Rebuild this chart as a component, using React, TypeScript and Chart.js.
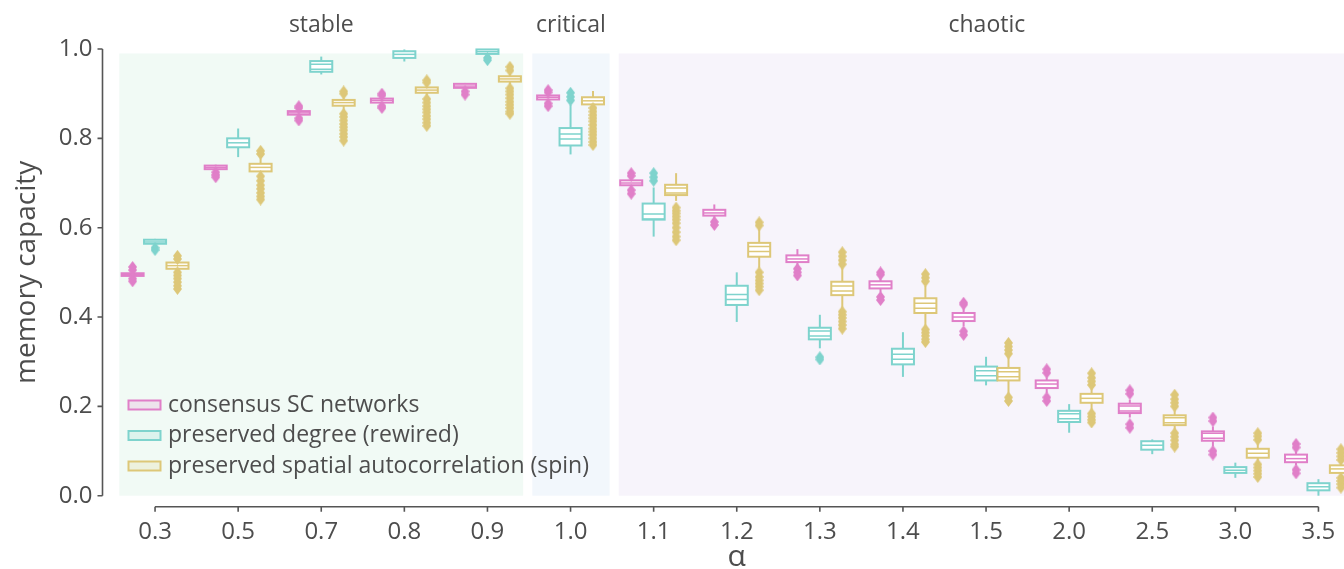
import { useEffect, useRef } from 'react';
import { Chart, registerables } from 'chart.js';

Chart.register(...registerables);

// ---------- data ----------
const categories = ['0.3', '0.5', '0.7', '0.8', '0.9', '1.0', '1.1', '1.2', '1.3', '1.4', '1.5', '2.0', '2.5', '3.0', '3.5'];
const seriesNames = ['consensus SC networks', 'preserved degree (rewired)', 'preserved spatial autocorrelation (spin)'];
const seriesColors = ['#e07fc8', '#7ed3cd', '#ddc778'];
const seriesTints = ['rgba(224,127,200,0.18)', 'rgba(126,211,205,0.18)', 'rgba(221,199,120,0.18)'];
const yTickValues = [0, 0.2, 0.4, 0.6, 0.8, 1.0];

const regionNames = ['stable', 'critical', 'chaotic'];
const regionStart = [-0.43, 4.54, 5.58];
const regionEnd = [4.43, 5.47, 14.44];
const regionColors = ['#f1faf5', '#f2f7fc', '#f7f4fb'];

// consensus SC networks
const consensusLow = [0.490, 0.729, 0.850, 0.877, 0.911, 0.884, 0.690, 0.622, 0.515, 0.455, 0.380, 0.230, 0.175, 0.110, 0.068];
const consensusQ1 = [0.492, 0.731, 0.853, 0.880, 0.913, 0.887, 0.695, 0.627, 0.523, 0.464, 0.391, 0.241, 0.185, 0.123, 0.075];
const consensusMed = [0.495, 0.735, 0.857, 0.885, 0.917, 0.892, 0.700, 0.633, 0.530, 0.472, 0.400, 0.250, 0.195, 0.134, 0.083];
const consensusQ3 = [0.498, 0.739, 0.861, 0.889, 0.922, 0.896, 0.706, 0.640, 0.538, 0.480, 0.409, 0.258, 0.206, 0.144, 0.092];
const consensusHigh = [0.500, 0.741, 0.864, 0.892, 0.924, 0.899, 0.710, 0.652, 0.552, 0.490, 0.420, 0.265, 0.215, 0.155, 0.100];
const consensusOutliers = [
  [0.512, 0.505, 0.486, 0.480],
  [0.724, 0.718, 0.713],
  [0.872, 0.868, 0.845, 0.840],
  [0.900, 0.896, 0.872, 0.868],
  [0.905, 0.898],
  [0.908, 0.903, 0.878, 0.872],
  [0.722, 0.716, 0.684, 0.676],
  [0.613, 0.606],
  [0.508, 0.500, 0.493],
  [0.500, 0.495, 0.445, 0.438],
  [0.432, 0.428, 0.368, 0.360],
  [0.283, 0.275, 0.220, 0.212],
  [0.236, 0.228, 0.160, 0.152],
  [0.175, 0.167, 0.100, 0.092],
  [0.116, 0.108, 0.058, 0.050],
];

// preserved degree (rewired)
const rewiredLow = [0.562, 0.758, 0.943, 0.972, 0.985, 0.764, 0.580, 0.389, 0.330, 0.266, 0.247, 0.141, 0.093, 0.040, 0.000];
const rewiredQ1 = [0.564, 0.780, 0.949, 0.980, 0.989, 0.784, 0.618, 0.427, 0.350, 0.294, 0.258, 0.165, 0.103, 0.051, 0.012];
const rewiredMed = [0.568, 0.790, 0.960, 0.988, 0.994, 0.804, 0.625, 0.445, 0.363, 0.311, 0.274, 0.178, 0.113, 0.057, 0.020];
const rewiredQ3 = [0.573, 0.800, 0.973, 0.995, 0.999, 0.823, 0.654, 0.470, 0.376, 0.329, 0.289, 0.190, 0.122, 0.064, 0.028];
const rewiredHigh = [0.575, 0.822, 0.983, 0.999, 1.000, 0.875, 0.690, 0.500, 0.405, 0.366, 0.311, 0.205, 0.126, 0.074, 0.037];
const rewiredOutliers = [
  [0.555, 0.550],
  [],
  [],
  [],
  [0.980, 0.975],
  [0.885, 0.893, 0.902],
  [0.705, 0.713, 0.722],
  [],
  [0.310, 0.305],
  [],
  [],
  [],
  [],
  [],
  [],
];

// preserved spatial autocorrelation (spin)
const spinLow = [0.505, 0.720, 0.862, 0.895, 0.920, 0.870, 0.660, 0.510, 0.420, 0.375, 0.225, 0.190, 0.145, 0.075, 0.045];
const spinQ1 = [0.508, 0.726, 0.873, 0.902, 0.927, 0.876, 0.673, 0.535, 0.449, 0.409, 0.258, 0.208, 0.158, 0.085, 0.051];
const spinMed = [0.515, 0.735, 0.880, 0.908, 0.933, 0.884, 0.683, 0.552, 0.464, 0.425, 0.272, 0.218, 0.169, 0.095, 0.060];
const spinQ3 = [0.522, 0.743, 0.886, 0.914, 0.939, 0.892, 0.696, 0.566, 0.479, 0.442, 0.286, 0.228, 0.180, 0.105, 0.068];
const spinHigh = [0.526, 0.755, 0.892, 0.920, 0.945, 0.906, 0.722, 0.597, 0.510, 0.470, 0.310, 0.240, 0.195, 0.120, 0.075];
const spinOutliers = [
  [0.537, 0.530, 0.500, 0.493, 0.486, 0.478, 0.470, 0.463],
  [0.765, 0.772, 0.715, 0.705, 0.695, 0.687, 0.678, 0.670, 0.663],
  [0.905, 0.900, 0.855, 0.848, 0.840, 0.832, 0.825, 0.818, 0.810, 0.803, 0.795],
  [0.930, 0.925, 0.888, 0.880, 0.872, 0.865, 0.858, 0.850, 0.843, 0.835, 0.828],
  [0.960, 0.952, 0.912, 0.905, 0.898, 0.890, 0.882, 0.875, 0.868, 0.860, 0.855],
  [0.868, 0.860, 0.852, 0.845, 0.838, 0.830, 0.822, 0.815, 0.808, 0.800, 0.792, 0.785],
  [0.645, 0.638, 0.632, 0.625, 0.618, 0.610, 0.600, 0.590, 0.580, 0.572],
  [0.612, 0.605, 0.500, 0.490, 0.482, 0.475, 0.468, 0.460],
  [0.518, 0.527, 0.536, 0.545, 0.412, 0.405, 0.398, 0.390, 0.382, 0.374],
  [0.480, 0.488, 0.496, 0.372, 0.365, 0.358, 0.350, 0.344],
  [0.318, 0.326, 0.334, 0.342, 0.220, 0.212],
  [0.248, 0.256, 0.264, 0.274, 0.184, 0.177, 0.170, 0.164],
  [0.200, 0.208, 0.216, 0.226, 0.140, 0.132, 0.124, 0.115, 0.110],
  [0.125, 0.133, 0.140, 0.070, 0.063, 0.056, 0.049, 0.042],
  [0.080, 0.088, 0.096, 0.104, 0.040, 0.033, 0.026, 0.018],
];

// ---------- styling ----------
const FONT = "'Open Sans', 'DejaVu Sans', sans-serif";
const TEXT_COLOR = '#4d4d4d';
const SPINE_COLOR = '#555555';
const seriesOffsets = [-0.27, 0, 0.27];
const BOX_WIDTH = 0.265;
const CANVAS_W = 1380;
const CANVAS_H = 569;

const stats = [
  { lo: consensusLow, q1: consensusQ1, med: consensusMed, q3: consensusQ3, hi: consensusHigh, out: consensusOutliers },
  { lo: rewiredLow, q1: rewiredQ1, med: rewiredMed, q3: rewiredQ3, hi: rewiredHigh, out: rewiredOutliers },
  { lo: spinLow, q1: spinQ1, med: spinMed, q3: spinQ3, hi: spinHigh, out: spinOutliers },
];

function makeDiamond(color: string): HTMLCanvasElement {
  const c = document.createElement('canvas');
  c.width = 9;
  c.height = 12;
  const g = c.getContext('2d')!;
  g.fillStyle = color;
  g.beginPath();
  g.moveTo(4.5, 0);
  g.lineTo(9, 6);
  g.lineTo(4.5, 12);
  g.lineTo(0, 6);
  g.closePath();
  g.fill();
  return c;
}

const backgroundPlugin = {
  id: 'regionBackground',
  beforeDraw(chart: any) {
    const { ctx, scales } = chart;
    const x = scales.x;
    const y = scales.y;
    ctx.save();
    ctx.fillStyle = '#ffffff';
    ctx.fillRect(0, 0, chart.width, chart.height);
    regionNames.forEach((name, r) => {
      const x0 = x.getPixelForValue(regionStart[r]);
      const x1 = x.getPixelForValue(regionEnd[r]);
      const yTop = y.getPixelForValue(0.99);
      const yBot = y.getPixelForValue(0);
      ctx.fillStyle = regionColors[r];
      ctx.fillRect(x0, yTop, x1 - x0, yBot - yTop);
      ctx.fillStyle = TEXT_COLOR;
      ctx.font = `23px ${FONT}`;
      ctx.textAlign = 'center';
      ctx.textBaseline = 'middle';
      ctx.fillText(name, (x0 + x1) / 2, 25);
    });
    ctx.restore();
  },
};

const boxenPlugin = {
  id: 'boxen',
  beforeDatasetsDraw(chart: any) {
    const { ctx, scales } = chart;
    const x = scales.x;
    const y = scales.y;
    const half = (x.getPixelForValue(BOX_WIDTH) - x.getPixelForValue(0)) / 2;
    ctx.save();
    stats.forEach((st, s) => {
      const color = seriesColors[s];
      categories.forEach((_, i) => {
        const xc = x.getPixelForValue(i + seriesOffsets[s]);
        const yLo = y.getPixelForValue(st.lo[i]);
        const yHi = y.getPixelForValue(st.hi[i]);
        const top = y.getPixelForValue(st.q3[i]);
        const bot = y.getPixelForValue(st.q1[i]);
        const ym = y.getPixelForValue(st.med[i]);
        ctx.strokeStyle = color;
        ctx.lineWidth = 2;
        ctx.beginPath();
        ctx.moveTo(xc, yHi);
        ctx.lineTo(xc, yLo);
        ctx.stroke();
        ctx.fillStyle = '#ffffff';
        ctx.fillRect(xc - half, top, 2 * half, bot - top);
        ctx.strokeRect(xc - half, top, 2 * half, bot - top);
        const h = bot - top;
        ctx.lineWidth = 1.5;
        if (h > 9) {
          ctx.beginPath();
          ctx.moveTo(xc - half, ym - 2.5);
          ctx.lineTo(xc + half, ym - 2.5);
          ctx.moveTo(xc - half, ym + 2.5);
          ctx.lineTo(xc + half, ym + 2.5);
          ctx.stroke();
        } else {
          ctx.beginPath();
          ctx.moveTo(xc - half, ym);
          ctx.lineTo(xc + half, ym);
          ctx.stroke();
        }
      });
    });
    ctx.restore();
  },
};

const spinePlugin = {
  id: 'spinesAndLegend',
  afterDraw(chart: any) {
    const { ctx, chartArea, scales } = chart;
    const x = scales.x;
    const y = scales.y;
    ctx.save();
    ctx.strokeStyle = SPINE_COLOR;
    ctx.lineWidth = 1.6;
    // y spine (offset)
    const sx = chartArea.left - 11;
    ctx.beginPath();
    ctx.moveTo(sx, y.getPixelForValue(0));
    ctx.lineTo(sx, y.getPixelForValue(1));
    yTickValues.forEach((v) => {
      const py = y.getPixelForValue(v);
      ctx.moveTo(sx, py);
      ctx.lineTo(sx - 5, py);
    });
    ctx.stroke();
    // x spine (offset, trimmed)
    const sy = chartArea.bottom + 11;
    ctx.beginPath();
    ctx.moveTo(x.getPixelForValue(0), sy);
    ctx.lineTo(x.getPixelForValue(categories.length - 1), sy);
    categories.forEach((_, i) => {
      const px = x.getPixelForValue(i);
      ctx.moveTo(px, sy);
      ctx.lineTo(px, sy + 5);
    });
    ctx.stroke();

    // legend
    seriesNames.forEach((name, s) => {
      const cy = chartArea.bottom - 29.7 - (seriesNames.length - 1 - s) * 30.5;
      const lx = chartArea.left + 15;
      ctx.fillStyle = seriesTints[s];
      ctx.fillRect(lx, cy - 4.5, 32, 9);
      ctx.strokeStyle = seriesColors[s];
      ctx.lineWidth = 2;
      ctx.strokeRect(lx, cy - 4.5, 32, 9);
      ctx.fillStyle = TEXT_COLOR;
      ctx.font = `23px ${FONT}`;
      ctx.textAlign = 'left';
      ctx.textBaseline = 'middle';
      ctx.fillText(name, chartArea.left + 54.5, cy);
    });
    ctx.restore();
  },
};

export default function App() {
  const ref = useRef<HTMLCanvasElement | null>(null);

  useEffect(() => {
    if (!ref.current) return;
    const datasets = stats.map((st, s) => ({
      type: 'scatter' as const,
      label: seriesNames[s],
      data: st.out.flatMap((vals, i) => vals.map((v) => ({ x: i + seriesOffsets[s], y: v }))),
      pointStyle: makeDiamond(seriesColors[s]),
      pointRadius: 5,
      backgroundColor: seriesColors[s],
      borderColor: seriesColors[s],
      showLine: false,
      clip: false as any,
    }));

    const chart = new Chart(ref.current, {
      type: 'scatter',
      data: { datasets },
      options: {
        responsive: false,
        animation: false,
        devicePixelRatio: 1,
        layout: { padding: { left: 0, right: 20, top: 49, bottom: 0 } },
        plugins: {
          legend: { display: false },
          tooltip: { enabled: false },
        },
        scales: {
          x: {
            type: 'linear',
            min: -0.5,
            max: categories.length - 0.5,
            grid: { display: false, drawTicks: false },
            border: { display: false },
            afterBuildTicks: (scale: any) => {
              scale.ticks = categories.map((_, i) => ({ value: i }));
            },
            afterFit: (scale: any) => {
              scale.height = 73.3;
            },
            ticks: {
              autoSkip: false,
              maxRotation: 0,
              padding: 22,
              color: TEXT_COLOR,
              font: { family: FONT, size: 24 },
              callback: (value: any) => categories[value as number] ?? '',
            },
            title: {
              display: true,
              text: 'α',
              color: TEXT_COLOR,
              font: { family: FONT, size: 30, lineHeight: 0.8 },
              padding: { top: 0, bottom: 0 },
            },
          },
          y: {
            type: 'linear',
            min: 0,
            max: 1,
            grid: { display: false, drawTicks: false },
            border: { display: false },
            afterBuildTicks: (scale: any) => {
              scale.ticks = yTickValues.map((v) => ({ value: v }));
            },
            afterFit: (scale: any) => {
              scale.width = 113.5;
            },
            ticks: {
              padding: 21,
              color: TEXT_COLOR,
              font: { family: FONT, size: 24 },
              callback: (value: any) => Number(value).toFixed(1),
            },
            title: {
              display: true,
              text: 'memory capacity',
              color: TEXT_COLOR,
              font: { family: FONT, size: 28 },
              padding: { top: 10, bottom: 0 },
            },
          },
        },
      },
      plugins: [backgroundPlugin, boxenPlugin, spinePlugin],
    });
    return () => chart.destroy();
  }, []);

  return (
    <div
      style={{
        position: 'fixed',
        left: 0,
        top: 0,
        width: 1344,
        height: 569,
        overflow: 'hidden',
        background: '#ffffff',
      }}
    >
      <canvas ref={ref} width={CANVAS_W} height={CANVAS_H} style={{ display: 'block', width: CANVAS_W, height: CANVAS_H }} />
    </div>
  );
}
